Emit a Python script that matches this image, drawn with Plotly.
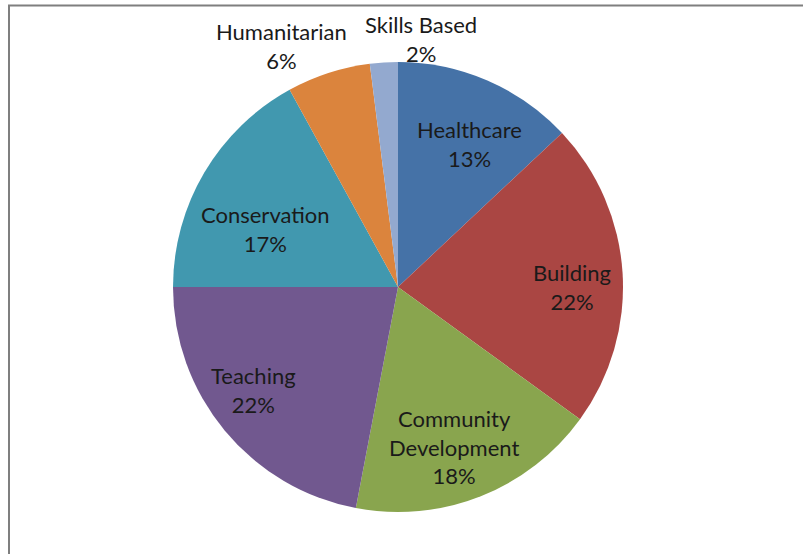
import plotly.graph_objects as go

# Volunteer project types and their share of placements (%)
categories = ["Healthcare", "Building", "Community Development", "Teaching",
              "Conservation", "Humanitarian", "Skills Based"]
label_text = ["Healthcare", "Building", "Community<br>Development", "Teaching",
              "Conservation", "Humanitarian", "Skills Based"]
shares = [13, 22, 18, 22, 17, 6, 2]
colors = ["#4572A7", "#AA4643", "#89A54E", "#71588F", "#4198AF", "#DB843D", "#93A9CF"]

# label centres in pixels (x from left, y from top)
label_xy = {
    "Healthcare": (469, 144),
    "Building": (572, 287),
    "Community Development": (454, 447),
    "Teaching": (253, 390),
    "Conservation": (265, 229),
    "Humanitarian": (281, 46),
    "Skills Based": (421, 39),
}

W, H = 803, 554
FONT = dict(family="Lato", size=22, color="#1a1a1a")

fig = go.Figure(go.Pie(
    labels=categories,
    values=shares,
    textinfo="none",
    sort=False,
    direction="clockwise",
    rotation=0,
    marker=dict(colors=colors, line=dict(width=0)),
    showlegend=False,
    hoverinfo="label+percent",
    domain=dict(x=[173 / W, 623 / W], y=[1 - 512 / H, 1 - 62 / H]),
))

total = sum(shares)
annotations = []
for name, txt, val in zip(categories, label_text, shares):
    px, py = label_xy[name]
    annotations.append(dict(
        x=px / W, y=1 - py / H, xref="paper", yref="paper",
        text=f"{txt}<br>{val / total:.0%}",
        showarrow=False, font=FONT, align="center",
        xanchor="center", yanchor="middle",
    ))

fig.update_layout(
    width=W, height=H,
    margin=dict(l=0, r=0, t=0, b=0, autoexpand=False),
    paper_bgcolor="white",
    plot_bgcolor="white",
    annotations=annotations,
    shapes=[dict(type="rect", xref="paper", yref="paper",
                 x0=9 / W, x1=1.05, y0=-0.05, y1=1 - 5.5 / H,
                 line=dict(color="#7f7f7f", width=2))],
)

fig.write_html("out.html")
